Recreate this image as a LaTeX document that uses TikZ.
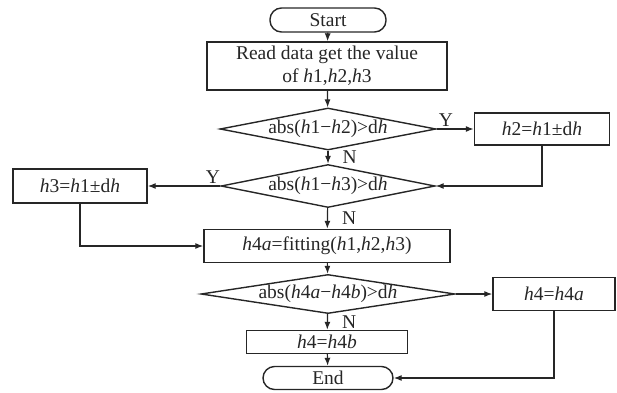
\documentclass[tikz,border=0pt]{standalone}
\usepackage{fontspec}
\setmainfont{Liberation Serif}
\usetikzlibrary{arrows.meta,positioning,shapes.geometric}
\definecolor{ink}{HTML}{262626}
\newcommand{\hv}{\textit{h}}
\tikzset{
  box/.style={draw=ink,line width=1.4pt,align=center,inner sep=2pt,
    text=ink,font=\fontsize{19.5}{23}\selectfont},
  term/.style={box,rounded corners=11.5pt},
  dec/.style={box,diamond,aspect=5,inner sep=0pt},
  arr/.style={-{Latex[length=8pt,width=6pt]},line width=1.2pt,draw=ink},
  lbl/.style={font=\fontsize{19.5}{23}\selectfont,text=ink,inner sep=2pt}
}

\begin{document}
\begin{tikzpicture}[x=1pt,y=1pt]
  \useasboundingbox (0,0) rectangle (617,392);
  \node[term,minimum width=116pt,minimum height=24pt] (start) at (328,372) {Start};
  \node[box,minimum width=240pt,minimum height=48pt] (read) at (327,326)
    {Read data get the value\\of~\hv1,\hv2,\hv3};
  \node[dec,minimum width=216pt,minimum height=42pt] (d1) at (328,263)
    {abs(\hv1−\hv2)>d\hv};
  \node[box,minimum width=135pt,minimum height=32pt] (h2) at (542,263)
    {\hv2=\hv1±d\hv};
  \node[dec,minimum width=214pt,minimum height=43pt] (d2) at (328,206)
    {abs(\hv1−\hv3)>d\hv};
  \node[box,minimum width=134pt,minimum height=34pt] (h3) at (80,206)
    {\hv3=\hv1±d\hv};
  \node[box,minimum width=246pt,minimum height=33pt] (fit) at (327,146)
    {\hv4\textit{a}=fitting(\hv1,\hv2,\hv3)};
  \node[dec,aspect=6.5,minimum width=248pt,minimum height=38pt] (d3) at (328,98)
    {abs(\hv4\textit{a}−\hv4\textit{b})>d\hv};
  \node[box,minimum width=122pt,minimum height=33pt] (h4a) at (554,98)
    {\hv4=\hv4\textit{a}};
  \node[box,minimum width=161pt,minimum height=23pt,inner sep=1pt] (h4b) at (327,50)
    {\hv4=\hv4\textit{b}};
  \node[term,minimum width=130pt,minimum height=23pt,inner sep=1pt] (end) at (328,14) {End};

  \draw[arr] (start) -- (read);
  \draw[arr] (read) -- (d1);
  \draw[arr] (d1) -- node[lbl,above,pos=0.25] {Y} (h2);
  \draw[arr] (d1) -- node[lbl,right=12pt] {N} (d2);
  \draw[arr] (h2.south) |- (d2.east);
  \draw[arr] (d2) -- node[lbl,above,pos=0.1] {Y} (h3);
  \draw[arr] (d2) -- node[lbl,right=12pt] {N} (fit);
  \draw[arr] (h3.south) |- (fit.west);
  \draw[arr] (fit) -- (d3);
  \draw[arr] (d3) -- (h4a);
  \draw[arr] (d3) -- node[lbl,right=12pt] {N} (h4b);
  \draw[arr] (h4b) -- (end);
  \draw[arr] (h4a.south) |- (end.east);
\end{tikzpicture}
\end{document}
